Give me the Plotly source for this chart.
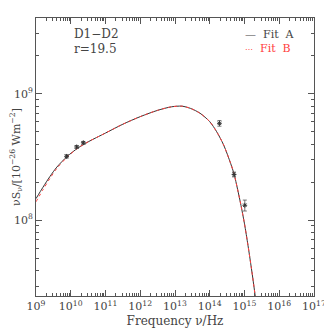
import numpy as np
import plotly.graph_objects as go

# Observed data (frequency in Hz, nu*S_nu in 1e-26 W m^-2)
obs_freq = [7.6e9, 1.48e10, 2.3e10, 1.9e14, 5.0e14, 1.02e15]
obs_flux = [3.2e8, 3.8e8, 4.1e8, 5.85e8, 2.3e8, 1.31e8]
obs_err = [0.1e8, 0.1e8, 0.1e8, 0.3e8, 0.1e8, 0.13e8]

# Fit curves (log10 frequency, log10 flux)
fitA_lognu = [9.0, 9.2, 9.4, 9.6, 9.9, 10.2, 10.5, 11.0, 11.5, 12.0, 12.5, 12.9, 13.2, 13.45,
              13.72, 14.0, 14.2, 14.4, 14.6, 14.7, 14.8, 14.9, 15.0, 15.1, 15.2, 15.3, 15.4]
fitA_logS = [8.17, 8.26, 8.345, 8.42, 8.505, 8.57, 8.62, 8.69, 8.76, 8.82, 8.87, 8.898, 8.903, 8.885,
             8.847, 8.78, 8.70, 8.595, 8.45, 8.365, 8.245, 8.115, 7.97, 7.80, 7.615, 7.415, 7.20]
fitB_lognu = fitA_lognu
fitB_logS = [8.145, 8.24, 8.33, 8.41, 8.50, 8.57, 8.62, 8.69, 8.76, 8.82, 8.87, 8.898, 8.903, 8.885,
             8.847, 8.78, 8.70, 8.595, 8.45, 8.365, 8.245, 8.115, 7.97, 7.80, 7.615, 7.415, 7.20]

x_ticks = [1e9, 1e10, 1e11, 1e12, 1e13, 1e14, 1e15, 1e16, 1e17]
x_ticktext = ["10<sup>%d</sup>" % e for e in range(9, 18)]
y_ticks = [1e8, 1e9]
y_ticktext = ["10<sup>8</sup>", "10<sup>9</sup>"]

FONT = "DejaVu Serif"
GREY = "#555555"
TXT = "#444444"
X_RANGE = [9, 17]
Y_RANGE = [np.log10(2.5e7), np.log10(4e9)]

fig = go.Figure()
fig.add_trace(go.Scatter(
    x=[10 ** v for v in fitA_lognu], y=[10 ** v for v in fitA_logS],
    mode="lines", line=dict(color="#333333", width=1, shape="spline", smoothing=0.8),
    showlegend=False))
fig.add_trace(go.Scatter(
    x=[10 ** v for v in fitB_lognu], y=[10 ** v for v in fitB_logS],
    mode="lines", line=dict(color="#ff4040", width=1, dash="dot", shape="spline", smoothing=0.8),
    showlegend=False))
fig.add_trace(go.Scatter(
    x=obs_freq, y=obs_flux, mode="markers",
    marker=dict(symbol="asterisk-open", size=4, color="#333333", line=dict(width=1, color="#333333")),
    error_y=dict(type="data", array=obs_err, color="#555555", thickness=0.8, width=2),
    showlegend=False))
# invisible trace on mirror axes so they are drawn
fig.add_trace(go.Scatter(x=[obs_freq[0]], y=[obs_flux[0]], xaxis="x2", yaxis="y2",
                         mode="markers", marker=dict(opacity=0), showlegend=False,
                         hoverinfo="skip"))

tick_common = dict(
    type="log", showgrid=False, zeroline=False, showline=True, linecolor=GREY, linewidth=1,
    ticks="inside", ticklen=6, tickcolor=GREY, tickwidth=1, automargin=False,
    minor=dict(ticks="inside", ticklen=3, tickcolor=GREY, dtick="D1", showgrid=False),
)

fig.update_layout(
    xaxis=dict(**tick_common, range=X_RANGE, tickvals=x_ticks, ticktext=x_ticktext,
               tickfont=dict(family=FONT, size=11, color=TXT),
               title=dict(text="Frequency ν/Hz", font=dict(family=FONT, size=12, color=TXT), standoff=4)),
    yaxis=dict(**tick_common, range=Y_RANGE, tickvals=y_ticks, ticktext=y_ticktext,
               tickfont=dict(family=FONT, size=11, color=TXT),
               title=dict(text="νS<sub>ν</sub>/[10<sup>−26</sup> Wm<sup>−2</sup>]",
                          font=dict(family=FONT, size=11, color=TXT), standoff=0)),
    xaxis2=dict(**tick_common, range=X_RANGE, overlaying="x", side="top", showticklabels=False,
                anchor="y2", tickvals=x_ticks),
    yaxis2=dict(**tick_common, range=Y_RANGE, overlaying="y", side="right", showticklabels=False,
                anchor="x2", tickvals=y_ticks),
)

fig.add_annotation(x=0.13, y=0.942, xref="paper", yref="paper", text="D1−D2", showarrow=False,
                   xanchor="left", yanchor="middle", font=dict(family=FONT, size=12, color=TXT))
fig.add_annotation(x=0.13, y=0.89, xref="paper", yref="paper", text="r=19.5", showarrow=False,
                   xanchor="left", yanchor="middle", font=dict(family=FONT, size=12, color=TXT))
fig.add_annotation(x=0.745, y=0.942, xref="paper", yref="paper", text="—  Fit  A", showarrow=False,
                   xanchor="left", yanchor="middle", font=dict(family=FONT, size=11, color=TXT))
fig.add_annotation(x=0.745, y=0.89, xref="paper", yref="paper",
                   text="<span style='font-size:8px'>⋯</span>  Fit  B",
                   showarrow=False, xanchor="left", yanchor="middle",
                   font=dict(family=FONT, size=11, color="#ff4040"))

# page body has an 8px default margin, so the figure is offset; margins compensate
fig.update_layout(width=332, height=332, margin=dict(l=28, r=26, t=10, b=44),
                  paper_bgcolor="white", plot_bgcolor="white")
fig.write_html("out.html")
